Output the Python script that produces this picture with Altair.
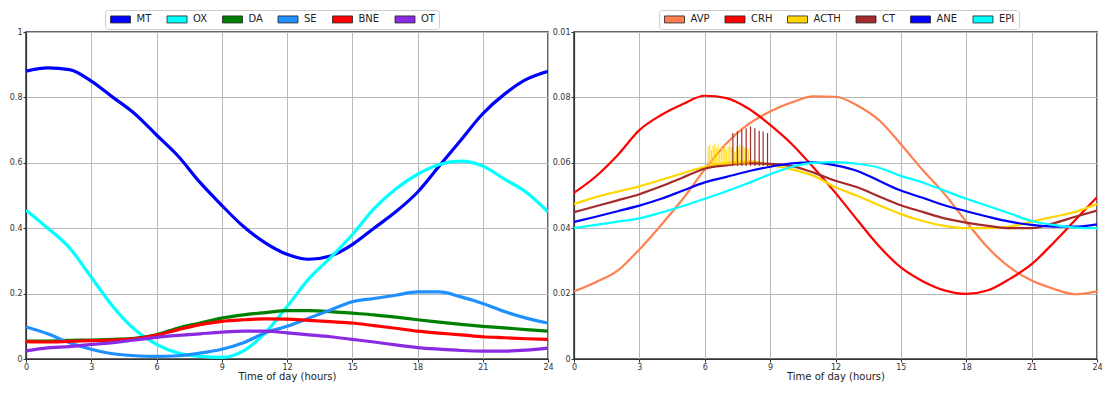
import altair as alt
import pandas as pd

hours = list(range(25))

# ---- left panel (neurotransmitters) ----
left_names = ["MT", "OX", "DA", "SE", "BNE", "OT"]
left_colors = ["#0000ff", "#00ffff", "#008000", "#1e90ff", "#ff0000", "#8a2be2"]
mt = [0.88, 0.89, 0.885, 0.85, 0.80, 0.75, 0.685, 0.62, 0.54, 0.47, 0.405, 0.355, 0.32,
      0.305, 0.315, 0.35, 0.40, 0.45, 0.51, 0.59, 0.67, 0.75, 0.81, 0.855, 0.88]
ox = [0.455, 0.40, 0.34, 0.25, 0.16, 0.09, 0.045, 0.018, 0.008, 0.005, 0.025, 0.08, 0.16,
      0.245, 0.31, 0.38, 0.46, 0.52, 0.565, 0.595, 0.605, 0.59, 0.55, 0.51, 0.45]
da = [0.055, 0.055, 0.057, 0.058, 0.06, 0.063, 0.074, 0.095, 0.11, 0.125, 0.135, 0.142, 0.148,
      0.148, 0.145, 0.14, 0.135, 0.128, 0.12, 0.113, 0.106, 0.10, 0.095, 0.09, 0.085]
se = [0.098, 0.077, 0.05, 0.03, 0.016, 0.01, 0.008, 0.01, 0.018, 0.03, 0.05, 0.08, 0.10,
      0.125, 0.15, 0.175, 0.185, 0.195, 0.205, 0.205, 0.19, 0.17, 0.145, 0.125, 0.11]
bne = [0.053, 0.052, 0.054, 0.056, 0.058, 0.062, 0.073, 0.09, 0.105, 0.115, 0.12, 0.123, 0.122,
       0.118, 0.114, 0.11, 0.102, 0.094, 0.085, 0.079, 0.074, 0.068, 0.065, 0.062, 0.06]
ot = [0.025, 0.034, 0.038, 0.045, 0.05, 0.058, 0.066, 0.072, 0.077, 0.082, 0.085, 0.085, 0.08,
      0.074, 0.068, 0.06, 0.052, 0.043, 0.035, 0.03, 0.026, 0.024, 0.024, 0.027, 0.033]

# ---- right panel (hormones) ----
right_names = ["AVP", "CRH", "ACTH", "CT", "ANE", "EPI"]
right_colors = ["#ff7f50", "#ff0000", "#ffd700", "#a52a2a", "#0000ff", "#00ffff"]
avp = [0.0207, 0.0235, 0.027, 0.0335, 0.041, 0.049, 0.058, 0.066, 0.0718, 0.0757, 0.0785, 0.0803, 0.0802,
       0.0775, 0.073, 0.0657, 0.0578, 0.0505, 0.042, 0.034, 0.028, 0.024, 0.0215, 0.0198, 0.0207]
crh = [0.0508, 0.0558, 0.0623, 0.0700, 0.0746, 0.078, 0.0805, 0.0798, 0.0766, 0.0716, 0.0657, 0.0585, 0.0508,
       0.0425, 0.0345, 0.028, 0.0238, 0.021, 0.0199, 0.021, 0.0245, 0.029, 0.0355, 0.0425, 0.0495]
acth = [0.0474, 0.0495, 0.0512, 0.0528, 0.0548, 0.0568, 0.0588, 0.0600, 0.0605, 0.0593, 0.058, 0.056, 0.0525,
        0.0499, 0.047, 0.0443, 0.0422, 0.0407, 0.040, 0.040, 0.0405, 0.042, 0.0435, 0.045, 0.0474]
ct = [0.0449, 0.0467, 0.0485, 0.0504, 0.0528, 0.0555, 0.0582, 0.0592, 0.0598, 0.0597, 0.059, 0.057, 0.0545,
      0.0525, 0.0497, 0.047, 0.045, 0.043, 0.0417, 0.0407, 0.040, 0.040, 0.0415, 0.0435, 0.0454]
ane = [0.0419, 0.0435, 0.0452, 0.0469, 0.049, 0.0515, 0.054, 0.0557, 0.0574, 0.0588, 0.0598, 0.0601, 0.0592,
       0.0575, 0.0545, 0.0515, 0.0493, 0.047, 0.0452, 0.0435, 0.042, 0.041, 0.0405, 0.0405, 0.0412]
epi = [0.040, 0.041, 0.042, 0.043, 0.0448, 0.0468, 0.049, 0.0513, 0.0538, 0.0565, 0.0588, 0.060, 0.0602,
       0.0597, 0.0585, 0.056, 0.054, 0.0515, 0.049, 0.0468, 0.0445, 0.0422, 0.041, 0.0402, 0.040]

# pulses
acth_spike_t = [6.15, 6.23, 6.30, 6.38, 6.46, 6.53, 6.61, 6.69, 6.76, 6.84, 6.92, 6.99, 7.07,
                7.15, 7.22, 7.30, 7.38, 7.45, 7.53, 7.61, 7.68, 7.76, 7.84, 7.91, 7.99]
acth_spike_top = [0.0650, 0.0655, 0.0640, 0.0652, 0.0660, 0.0645, 0.0655, 0.0630, 0.0650, 0.0645,
                  0.0655, 0.0640, 0.0650, 0.0660, 0.0648, 0.0652, 0.0635, 0.0650, 0.0645, 0.0655,
                  0.0640, 0.0652, 0.0645, 0.0650, 0.0642]
ct_spike_t = [7.29, 7.50, 7.70, 7.90, 8.10, 8.30, 8.50, 8.68, 8.88]
ct_spike_top = [0.0691, 0.0696, 0.0701, 0.0706, 0.0711, 0.0706, 0.0698, 0.0696, 0.0691]
acth_spike_base = 0.0595
ct_spike_base = 0.0590


def long_df(names, series):
    rows = []
    for name, vals in zip(names, series):
        for h, v in zip(hours, vals):
            rows.append({"hour": h, "value": v, "series": name})
    return pd.DataFrame(rows)


RECT = "M-2.857,-1L2.857,-1L2.857,1L-2.857,1Z"
PLOT_H = 327


def panel(df, names, colors, ydomain, yticks, label_expr, width, sw, legend_x, extra=()):
    x = alt.X("hour:Q", scale=alt.Scale(domain=[0, 24], nice=False, zero=False),
              axis=alt.Axis(values=list(range(0, 25, 3)), format="d",
                            title="Time of day (hours)", labelFlush=False))
    y = alt.Y("value:Q", scale=alt.Scale(domain=ydomain, nice=False),
              axis=alt.Axis(values=yticks, labelExpr=label_expr, title=None))
    base = alt.Chart(df)
    # stroke scale listed in reverse order so that it is kept apart from the legend (fill) scale
    lines = base.mark_line(strokeWidth=sw, interpolate="monotone", clip=True).encode(
        x=x, y=y,
        stroke=alt.Stroke("series:N", scale=alt.Scale(domain=names[::-1], range=colors[::-1]),
                          legend=None),
    )
    leg = base.mark_point(filled=True, shape="square", opacity=0, size=1).encode(
        x=x, y=y,
        fill=alt.Fill("series:N", scale=alt.Scale(domain=names, range=colors),
                      legend=alt.Legend(orient="none", legendX=legend_x, legendY=-22,
                                        direction="horizontal", title=None,
                                        symbolType=RECT, symbolSize=49, symbolOffset=6.5,
                                        symbolOpacity=1,
                                        symbolStrokeColor="#222", symbolStrokeWidth=0.8,
                                        labelFontSize=10, labelFont="DejaVu Sans",
                                        labelColor="#222", labelOffset=11, columnPadding=12.5,
                                        padding=4, strokeColor="#cccccc", fillColor="white",
                                        cornerRadius=3)),
    )
    layers = [lines] + list(extra) + [leg]
    return alt.layer(*layers).properties(width=width, height=PLOT_H)


left_df = long_df(left_names, [mt, ox, da, se, bne, ot])
right_df = long_df(right_names, [avp, crh, acth, ct, ane, epi])

acth_df = pd.DataFrame({"hour": acth_spike_t, "top": acth_spike_top,
                        "base": [acth_spike_base] * len(acth_spike_t)})
ct_df = pd.DataFrame({"hour": ct_spike_t, "top": ct_spike_top,
                      "base": [ct_spike_base] * len(ct_spike_t)})

acth_rules = alt.Chart(acth_df).mark_rule(color="#ffd700", strokeWidth=1).encode(
    x="hour:Q", y="base:Q", y2="top:Q")
ct_rules = alt.Chart(ct_df).mark_rule(color="#a52a2a", strokeWidth=1.2).encode(
    x="hour:Q", y="base:Q", y2="top:Q")

left = panel(left_df, left_names, left_colors, [0, 1], [0, 0.2, 0.4, 0.6, 0.8, 1.0],
             "format(datum.value, '~g')", 522, 3.2, 79)
right = panel(right_df, right_names, right_colors, [0, 0.1], [0, 0.02, 0.04, 0.06, 0.08, 0.1],
              "datum.value > 0.099 ? '0.01' : format(datum.value, '~g')", 523, 2.2, 85,
              extra=(acth_rules, ct_rules))

chart = alt.hconcat(left, right, spacing=26, bounds="flush").resolve_scale(
    x="independent", y="independent", fill="independent", stroke="independent"
).properties(
    padding=0
).configure_view(
    stroke="#333333", strokeWidth=1.5
).configure_axis(
    domainColor="#333333", domainWidth=1.2, tickColor="#333333", tickSize=3,
    labelFontSize=8, labelFont="DejaVu Sans", labelColor="#333333", labelPadding=1,
    gridColor="#b8b8b8", gridWidth=1,
    titleFont="DejaVu Sans", titleFontSize=10, titleFontWeight="normal",
    titleColor="#222222", titlePadding=0,
)

chart.save("out.html", embed_options={"renderer": "svg", "actions": False})
